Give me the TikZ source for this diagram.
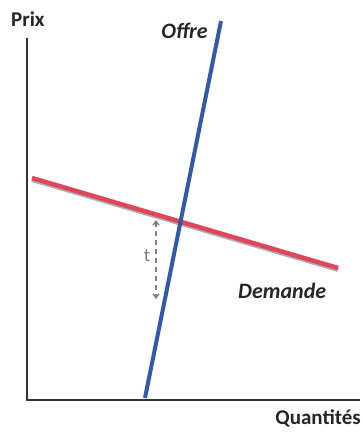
\documentclass[tikz,border=0pt]{standalone}
\usepackage{fontspec}
\setmainfont{Carlito}
\usetikzlibrary{arrows.meta}
\definecolor{demred}{RGB}{222,70,90}
\definecolor{offblue}{RGB}{50,90,170}
\definecolor{shadowgray}{RGB}{140,140,140}
\begin{document}
\begin{tikzpicture}[x=1pt,y=-1pt,
  axis/.style={line width=1.3pt,black!80},
  lab/.style={font=\fontsize{21}{21}\selectfont\bfseries,text=black!85,inner sep=0pt},
  curvelab/.style={font=\fontsize{22}{22}\selectfont\bfseries\itshape,text=black!85,inner sep=0pt},
  tax/.style={gray,line width=1.4pt,dash pattern=on 5pt off 4pt,{Straight Barb[length=4pt,width=6pt]}-{Straight Barb[length=4pt,width=6pt]}}]
\useasboundingbox (0,0) rectangle (363,432);
\coordinate (O) at (27,400);
\coordinate (ytop) at (27,38);
\coordinate (xend) at (360,400);
\draw[axis] (ytop) -- (O) -- (xend);
\node[lab,anchor=south west] (prix) at (11,27) {Prix};
\node[lab,anchor=north east] (quant) at (361,410) {Quantités};
% demand with shadow
\coordinate (d1) at (32,178);
\coordinate (d2) at (338,268);
\draw[line width=5pt,shadowgray!70] ([yshift=-1.5pt]d1) -- ([yshift=-1.5pt]d2);
\draw[line width=4.5pt,demred] (d1) -- (d2);
% supply
\coordinate (s1) at (145,398);
\coordinate (s2) at (221,21);
\draw[line width=4pt,offblue] (s1) -- (s2);
\node[curvelab,anchor=east] (offre) at (208,31) {Offre};
\node[curvelab,anchor=west] (dem) at (238,291) {Demande};
% tax
\coordinate (t1) at (156,220);
\coordinate (t2) at (156,299);
\draw[tax] (t1) -- (t2);
\node[font=\fontsize{19}{19}\selectfont,text=gray,inner sep=0pt] (t) at (147,256) {t};
\end{tikzpicture}
\end{document}
